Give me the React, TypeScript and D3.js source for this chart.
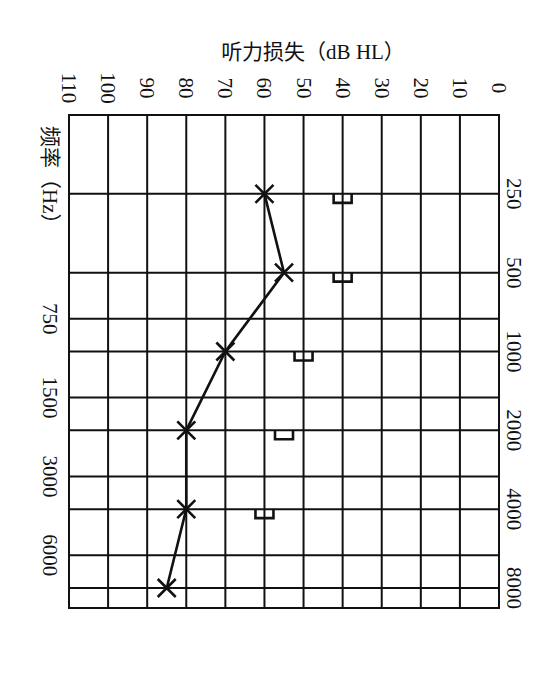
import React from 'react';
import * as d3 from 'd3';

const dbTicks = [0, 10, 20, 30, 40, 50, 60, 70, 80, 90, 100, 110];
const freqRight = [250, 500, 1000, 2000, 4000, 8000];
const freqLeft = [750, 1500, 3000, 6000];
const airFreq = [250, 500, 1000, 2000, 4000, 8000];
const airDb = [60, 55, 70, 80, 80, 85];
const boneFreq = [250, 500, 1000, 2000, 4000];
const boneDb = [40, 40, 50, 55, 60];
const freqDomain = [125, 9540];
const dbDomain = [0, 110];
const titleText = '听力损失（dB HL）';
const freqTitle = '频率（Hz）';

export default function App() {
  const W = 555, H = 700;
  const x = d3.scaleLinear().domain(dbDomain).range([499, 69]);
  const y = d3.scaleLog().domain(freqDomain).range([115, 608]);
  const font = '"Liberation Serif", "DejaVu Serif", "Noto Sans CJK SC", serif';
  const ink = '#111';
  const air = airFreq.map((f, i) => [x(airDb[i]), y(f)] as [number, number]);
  const line = d3.line();
  const gridFreqs = [...freqRight, ...freqLeft];
  return (
    <svg width={W} height={H} style={{ position: 'absolute', left: 0, top: 0, background: '#fff' }}
      fontFamily={font}>
      <rect x={0} y={0} width={W} height={H} fill="#fff" />
      <text x={313} y={59} textAnchor="middle" fontSize={21} fill={ink}>{titleText}</text>
      {dbTicks.map(d => (
        <text key={'t' + d} transform={`translate(${x(d)},88) rotate(90)`} textAnchor="middle"
          dominantBaseline="central" fontSize={21} fill={ink}>{d}</text>
      ))}
      {freqRight.map(f => (
        <text key={'r' + f} transform={`translate(514,${y(f)}) rotate(90)`} textAnchor="middle"
          dominantBaseline="central" fontSize={21} fill={ink}>{f}</text>
      ))}
      {freqLeft.map(f => (
        <text key={'l' + f} transform={`translate(50,${y(f)}) rotate(90)`} textAnchor="middle"
          dominantBaseline="central" fontSize={21} fill={ink}>{f}</text>
      ))}
      <text transform={`translate(50,126) rotate(90)`} textAnchor="start" dominantBaseline="central"
        fontSize={21} fill={ink}>{freqTitle}</text>
      {dbTicks.map(d => (
        <line key={'v' + d} x1={x(d)} x2={x(d)} y1={y(freqDomain[0])} y2={y(freqDomain[1])}
          stroke={ink} strokeWidth={2} />
      ))}
      {gridFreqs.map(f => (
        <line key={'h' + f} x1={x(dbDomain[1])} x2={x(dbDomain[0])} y1={y(f)} y2={y(f)}
          stroke={ink} strokeWidth={2} />
      ))}
      <rect x={x(dbDomain[1])} y={y(freqDomain[0])} width={x(dbDomain[0]) - x(dbDomain[1])}
        height={y(freqDomain[1]) - y(freqDomain[0])} fill="none" stroke={ink} strokeWidth={2} />
      <path d={line(air) || ''} fill="none" stroke={ink} strokeWidth={2.6} />
      {air.map(([px, py], i) => (
        <path key={'x' + i} transform={`translate(${px},${py})`} d="M-9,-9L9,9M-9,9L9,-9"
          stroke={ink} strokeWidth={2.6} fill="none" />
      ))}
      {boneFreq.map((f, i) => (
        <path key={'b' + i} transform={`translate(${x(boneDb[i])},${y(f)})`} d="M-9,0V9H9V0"
          stroke={ink} strokeWidth={2.6} fill="none" />
      ))}
    </svg>
  );
}
